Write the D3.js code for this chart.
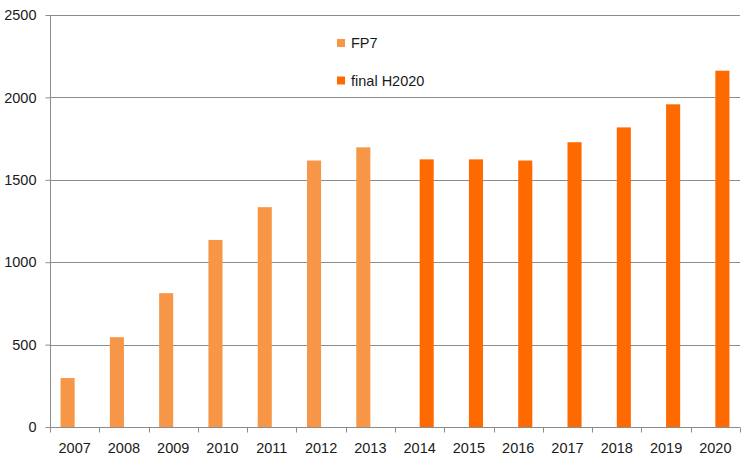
<!DOCTYPE html>
<html><head><meta charset="utf-8">
<script src="https://cdn.jsdelivr.net/npm/d3@7"></script>
<style>body{margin:0;background:#fff}svg{display:block}</style>
</head><body>
<script>
const years = ["2007","2008","2009","2010","2011","2012","2013","2014","2015","2016","2017","2018","2019","2020"];
const fp7 = [297, 545, 812, 1135, 1334, 1617, 1697, null, null, null, null, null, null, null];
const h2020 = [null, null, null, null, null, null, null, 1624, 1624, 1617, 1728, 1818, 1958, 2162];
const yTicks = [0, 500, 1000, 1500, 2000, 2500];
const seriesNames = ["FP7", "final H2020"];
const colors = ["#f79646", "#ff6a00"];

const W = 752, H = 464;
const svg = d3.select("body").append("svg").attr("width", W).attr("height", H);
const x = d3.scaleBand().domain(years).range([50, 740]).paddingInner(0).paddingOuter(0);
const y = d3.scaleLinear().domain([0, 2500]).range([427, 15]);
const font = "'Liberation Sans', Arial, sans-serif";
const fs = 14.5;

// gridlines
svg.append("g").selectAll("line").data(yTicks.filter(d => d > 0)).join("line")
  .attr("x1", 50).attr("x2", 740).attr("y1", d => Math.round(y(d)) + 0.5).attr("y2", d => Math.round(y(d)) + 0.5)
  .attr("stroke", "#8c8c8c").attr("stroke-width", 1);

// bars
const bw = x.bandwidth() / 3.5;
const series = [fp7, h2020];
series.forEach((vals, si) => {
  svg.append("g").selectAll("rect").data(years.map((yr, i) => ({yr, v: vals[i]})).filter(d => d.v != null)).join("rect")
    .attr("x", d => x(d.yr) + x.bandwidth() / 2 - bw + si * bw)
    .attr("y", d => y(d.v))
    .attr("width", bw)
    .attr("height", d => y(0) - y(d.v))
    .attr("fill", colors[si]);
});

// y axis
const yAxis = svg.append("g").attr("transform", "translate(50.5,0)")
  .call(d3.axisLeft(y).tickValues(yTicks).tickSize(5).tickPadding(9).tickFormat(d3.format("d")));
yAxis.select(".domain").attr("stroke", "#8c8c8c").attr("d", "M0," + y(2500) + "V" + y(0));
yAxis.selectAll(".tick line").attr("stroke", "#8c8c8c");
yAxis.selectAll("text").attr("font-family", font).attr("font-size", fs).attr("fill", "#1a1a1a");

// x axis
const xTickPos = years.map(d => x(d)).concat([x.range()[1]]);
const xg = svg.append("g").attr("transform", "translate(0," + (Math.round(y(0)) + 0.5) + ")");
xg.append("line").attr("x1", 50).attr("x2", 740).attr("stroke", "#8c8c8c");
xg.selectAll("line.t").data(xTickPos).join("line").attr("class", "t")
  .attr("x1", d => Math.round(d) + 0.5).attr("x2", d => Math.round(d) + 0.5).attr("y1", 0).attr("y2", 5)
  .attr("stroke", "#8c8c8c");
xg.selectAll("text").data(years).join("text")
  .attr("x", d => x(d) + x.bandwidth() / 2).attr("y", 25)
  .attr("text-anchor", "middle").attr("font-family", font).attr("font-size", fs).attr("fill", "#1a1a1a")
  .text(d => d);

// legend
const lg = svg.append("g");
seriesNames.forEach((n, i) => {
  const cy = 43 + i * 37.5;
  lg.append("rect").attr("x", 337).attr("y", cy - 4).attr("width", 8).attr("height", 8).attr("fill", colors[i]);
  lg.append("text").attr("x", 351).attr("y", cy + 5).attr("font-family", font).attr("font-size", fs)
    .attr("fill", "#1a1a1a").text(n);
});
</script>
</body></html>
